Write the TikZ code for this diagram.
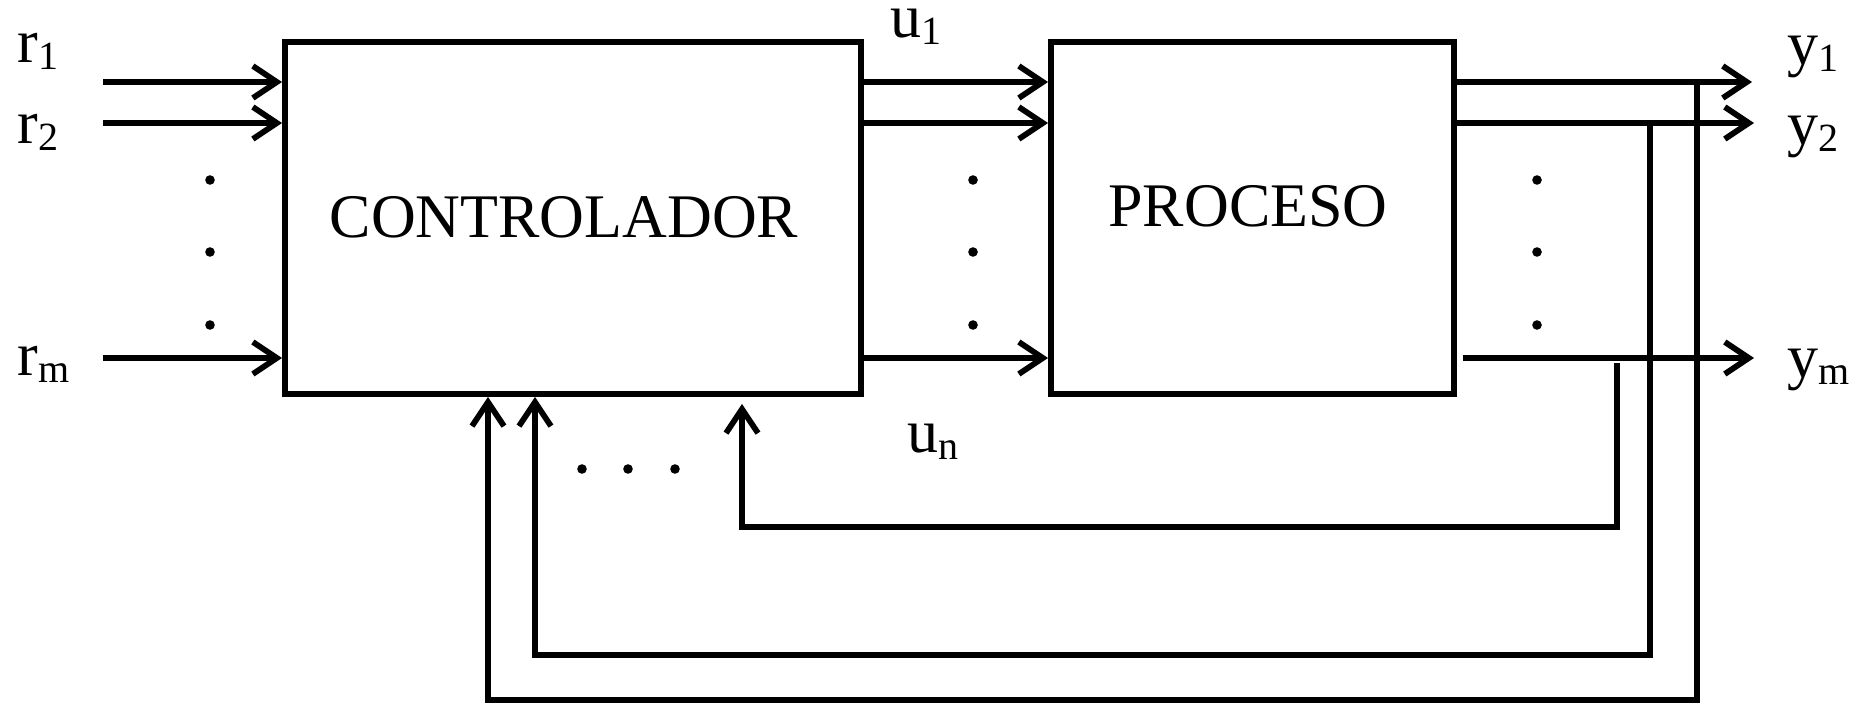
\documentclass[tikz,border=0pt]{standalone}
\usepackage{fontspec}
\setmainfont{Liberation Serif}
\usetikzlibrary{arrows.meta}
\newcommand{\sublab}[2]{#1{\fontsize{20}{20}\selectfont\raisebox{-3.5pt}{#2}}}
\begin{document}
\begin{tikzpicture}[x=0.5pt,y=-0.5pt,
  line width=2.9pt,
  arr/.style={-{Straight Barb[length=12pt,width=16pt,line cap=butt]}},
  blk/.style={draw, rectangle, inner sep=0pt, minimum width=0pt},
  txt/.style={inner sep=0pt, anchor=base west, text height=14pt, text depth=6pt, font=\fontsize{31}{36}\selectfont},
  big/.style={inner sep=0pt, anchor=base, font=\fontsize{31}{36}\selectfont},
  dot/.style={circle, fill, inner sep=0pt, minimum size=4.8pt}]
\useasboundingbox (0,0) rectangle (1858,706);
% blocks
\node[blk, minimum width=288pt, minimum height=176pt] (ctrl) at (573,218) {};
\node[blk, minimum width=201.5pt, minimum height=176pt] (proc) at (1252.5,218) {};
\node[big] (ctrltxt) at (564,237) {CONTROLADOR};
\node[big] (proctxt) at (1248,227) {PROCESO};
% y levels
\coordinate (l1) at (0,82);
\coordinate (l2) at (0,123);
\coordinate (lm) at (0,358);
% inputs
\coordinate (r1s) at (103,82);
\coordinate (r2s) at (103,123);
\coordinate (rms) at (103,358);
\draw[arr] (r1s) -- (r1s -| ctrl.west);
\draw[arr] (r2s) -- (r2s -| ctrl.west);
\draw[arr] (rms) -- (rms -| ctrl.west);
% controller to process
\draw[arr] (l1 -| ctrl.east) -- (l1 -| proc.west);
\draw[arr] (l2 -| ctrl.east) -- (l2 -| proc.west);
\draw[arr] (lm -| ctrl.east) -- (lm -| proc.west);
% outputs
\coordinate (y1e) at (1752,82);
\coordinate (y2e) at (1754,123);
\coordinate (yme) at (1754,358);
\coordinate (yms) at (1463,358);
\draw[arr] (l1 -| proc.east) -- (y1e);
\draw[arr] (l2 -| proc.east) -- (y2e);
\draw[arr] (yms) -- (yme);
% feedback loops
\coordinate (f1) at (1697,82);
\coordinate (f2) at (1650,123);
\coordinate (f3) at (1617,363);
\draw[arr] (f1) -- (1697,700) -- (488,700) -- (ctrl.south -| 488,0);
\draw[arr] (f2) -- (1650,655) -- (535,655) -- (ctrl.south -| 535,0);
\draw[arr] (f3) -- (1617,527) -- (742,527) -- ([yshift=-3.5pt]ctrl.south -| 742,0);
% labels
\node[txt] (r1) at (15,63) {\sublab{r}{1}};
\node[txt] (r2) at (15,143) {\sublab{r}{2}};
\node[txt] (rm) at (15,375) {\sublab{r}{m}};
\node[txt] (u1) at (888,38) {\sublab{u}{1}};
\node[txt] (un) at (905,452) {\sublab{u}{n}};
\node[txt] (y1) at (1785,65) {\sublab{y}{1}};
\node[txt] (y2) at (1785,145) {\sublab{y}{2}};
\node[txt] (ym) at (1785,377) {\sublab{y}{m}};
% dots
\foreach \x in {210,973,1537} {
  \foreach \y in {180,252,325} {
    \node[dot] at (\x,\y) {};
  }
}
\foreach \x in {582,628,675} {
  \node[dot] at (\x,469) {};
}
\end{tikzpicture}
\end{document}
